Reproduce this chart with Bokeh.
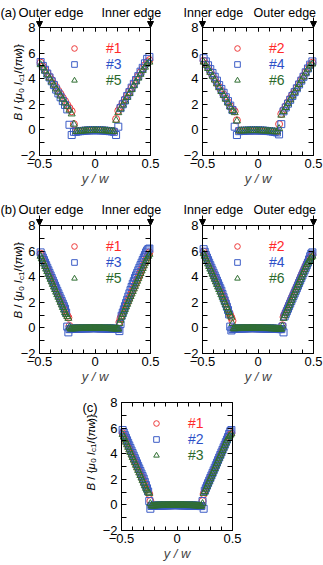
import math
from bokeh.plotting import figure
from bokeh.models import (Range1d, LinearAxis, FixedTicker, Label, Arrow, NormalHead,
                          Legend, LegendItem, CustomJSTickFormatter)
from bokeh.layouts import column, row
from bokeh.embed import file_html
from bokeh.resources import INLINE

# ---------------- data ----------------
x_ticks = [-0.5, 0, 0.5]
x_minor = [-0.5, -0.4, -0.3, -0.2, -0.1, 0, 0.1, 0.2, 0.3, 0.4, 0.5]
y_ticks = [-2, 0, 2, 4, 6, 8]
y_minor = [-1, 1, 3, 5, 7]
x_label = "y / w"

names_a_left = ["#1", "#3", "#5"]
names_a_right = ["#2", "#4", "#6"]
names_c = ["#1", "#2", "#3"]

x_a = [-0.49, -0.47, -0.45, -0.43, -0.41, -0.39, -0.37, -0.35, -0.33, -0.31,
       -0.29, -0.27, -0.25, -0.23, -0.21, -0.19, -0.17, -0.15, -0.13, -0.11,
       -0.09, -0.07, -0.05, -0.03, -0.01, 0.01, 0.03, 0.05, 0.07, 0.09,
       0.11, 0.13, 0.15, 0.17, 0.19, 0.21, 0.23, 0.25, 0.27, 0.29,
       0.31, 0.33, 0.35, 0.37, 0.39, 0.41, 0.43, 0.45, 0.47, 0.49]

a1 = [5.25, 4.95, 4.7, 4.45, 4.15, 3.9, 3.6, 3.35, 3.05, 2.8, 2.5, 2.25, 1.95, 1.7, 1.45,
      0.45,
      -0.1, -0.1, -0.08, -0.07, -0.05, -0.04, -0.03, -0.02, -0.02, -0.02, -0.02, -0.03,
      -0.04, -0.05, -0.07, -0.08, -0.1, -0.1,
      0.85,
      1.5, 1.8, 2.1, 2.4, 2.7, 3.0, 3.3, 3.6, 3.9, 4.2, 4.5, 4.8, 5.05, 5.3, 5.45]
a3 = [5.3, 5.0, 4.7, 4.4, 4.1, 3.8, 3.5, 3.15, 2.85, 2.55, 2.25, 1.95, 1.6,
      0.4, -0.4, -0.15,
      -0.15, -0.12, -0.1, -0.08, -0.06, -0.05, -0.04, -0.03, -0.03, -0.03, -0.03, -0.04,
      -0.05, -0.06, -0.08, -0.1, -0.12, -0.15,
      -0.4, 0.25,
      1.7, 2.0, 2.3, 2.65, 2.95, 3.3, 3.6, 3.9, 4.2, 4.55, 4.85, 5.2, 5.55, 5.7]
a5 = [5.1, 4.85, 4.6, 4.3, 4.05, 3.75, 3.5, 3.2, 2.95, 2.65, 2.4, 2.1, 1.85, 1.55, 1.25,
      0.45,
      -0.12, -0.1, -0.1, -0.08, -0.07, -0.06, -0.05, -0.05, -0.04, -0.04, -0.05, -0.05,
      -0.06, -0.07, -0.08, -0.1, -0.1, -0.12,
      0.75,
      1.35, 1.65, 1.95, 2.25, 2.55, 2.85, 3.15, 3.45, 3.75, 4.05, 4.35, 4.65, 4.9, 5.15, 5.3]
a2 = [5.4, 5.15, 4.85, 4.55, 4.25, 3.95, 3.65, 3.35, 3.05, 2.75, 2.45, 2.15, 1.85, 1.6, 1.45,
      0.75,
      -0.05, -0.05, -0.06, -0.06, -0.05, -0.05, -0.05, -0.04, -0.04, -0.05, -0.05, -0.06,
      -0.07, -0.08, -0.1, -0.12, -0.14, -0.15,
      0.45,
      1.25, 1.55, 1.85, 2.15, 2.45, 2.75, 3.0, 3.3, 3.6, 3.9, 4.2, 4.5, 4.8, 5.05, 5.25]
a4 = [5.6, 5.35, 5.05, 4.75, 4.45, 4.15, 3.85, 3.5, 3.2, 2.9, 2.55, 2.25, 1.9, 1.55,
      0.25, -0.4,
      -0.1, -0.08, -0.07, -0.06, -0.05, -0.05, -0.04, -0.04, -0.04, -0.05, -0.05, -0.06,
      -0.07, -0.09, -0.11, -0.13, -0.16, -0.2,
      -0.35, 0.45,
      1.45, 1.75, 2.05, 2.35, 2.65, 2.95, 3.25, 3.55, 3.85, 4.15, 4.5, 4.8, 5.1, 5.35]
a6 = [5.3, 5.05, 4.8, 4.5, 4.2, 3.9, 3.6, 3.3, 3.0, 2.7, 2.4, 2.1, 1.8, 1.5, 1.35,
      0.7,
      -0.08, -0.07, -0.07, -0.06, -0.06, -0.05, -0.05, -0.05, -0.05, -0.06, -0.06, -0.07,
      -0.08, -0.09, -0.1, -0.12, -0.14, -0.15,
      0.1,
      1.15, 1.45, 1.75, 2.05, 2.35, 2.65, 2.95, 3.25, 3.55, 3.85, 4.15, 4.45, 4.75, 5.0, 5.15]

x_bc = [-0.49, -0.48, -0.47, -0.46, -0.45, -0.44, -0.43, -0.42, -0.41, -0.40,
        -0.39, -0.38, -0.37, -0.36, -0.35, -0.34, -0.33, -0.32, -0.31, -0.30,
        -0.29, -0.28, -0.27, -0.26, -0.25, -0.24, -0.23, -0.22, -0.21, -0.20,
        -0.19, -0.18, -0.17, -0.16, -0.15, -0.14, -0.13, -0.12, -0.11, -0.10,
        -0.09, -0.08, -0.07, -0.06, -0.05, -0.04, -0.03, -0.02, -0.01, 0.0,
        0.01, 0.02, 0.03, 0.04, 0.05, 0.06, 0.07, 0.08, 0.09, 0.10,
        0.11, 0.12, 0.13, 0.14, 0.15, 0.16, 0.17, 0.18, 0.19, 0.20,
        0.21, 0.22, 0.23, 0.24, 0.25, 0.26, 0.27, 0.28, 0.29, 0.30,
        0.31, 0.32, 0.33, 0.34, 0.35, 0.36, 0.37, 0.38, 0.39, 0.40,
        0.41, 0.42, 0.43, 0.44, 0.45, 0.46, 0.47, 0.48, 0.49]

flat_bl = [-0.08, -0.07, -0.07, -0.06, -0.06, -0.05, -0.05, -0.05, -0.04, -0.04,
           -0.04, -0.04, -0.03, -0.03, -0.03, -0.03, -0.03, -0.03, -0.02, -0.02,
           -0.02, -0.02, -0.02, -0.02, -0.03, -0.03, -0.03, -0.03, -0.03, -0.03,
           -0.04, -0.04, -0.04, -0.04, -0.05, -0.05, -0.05, -0.06, -0.06, -0.07,
           -0.07, -0.08, -0.08, -0.09]
flat_br = [-0.06, -0.06, -0.05, -0.05, -0.05, -0.04, -0.04, -0.04, -0.04, -0.03,
           -0.03, -0.03, -0.03, -0.03, -0.02, -0.02, -0.02, -0.02, -0.02, -0.02,
           -0.02, -0.03, -0.03, -0.03, -0.03, -0.03, -0.04, -0.04, -0.04, -0.04,
           -0.05, -0.05, -0.05, -0.05, -0.06, -0.06, -0.06, -0.07, -0.07, -0.08,
           -0.08, -0.09, -0.09, -0.1]
flat_c = [-0.08, -0.08, -0.07, -0.07, -0.06, -0.06, -0.05, -0.05, -0.05, -0.04,
          -0.04, -0.04, -0.04, -0.03, -0.03, -0.03, -0.03, -0.03, -0.02, -0.02,
          -0.02, -0.02, -0.02, -0.02, -0.02, -0.03, -0.03, -0.03, -0.03, -0.03,
          -0.04, -0.04, -0.04, -0.04, -0.05, -0.05, -0.05, -0.05, -0.06, -0.06,
          -0.07, -0.07, -0.08, -0.08, -0.09, -0.09]

b1_l = [5.8, 5.6, 5.35, 5.15, 4.95, 4.75, 4.6, 4.4, 4.2, 3.95, 3.75, 3.55, 3.35,
        3.15, 2.95, 2.75, 2.55, 2.35, 2.15, 1.95, 1.75, 1.55, 1.35, 1.15, 0.95, 0.8]
b1_r = [0.45, 0.75, 0.95, 1.15, 1.35, 1.55, 1.75, 1.95, 2.15, 2.35, 2.55, 2.75, 2.95,
        3.15, 3.35, 3.55, 3.75, 3.95, 4.15, 4.35, 4.55, 4.75, 4.95, 5.15, 5.35, 5.55, 5.75, 5.9]
b3_l = [5.9, 5.7, 5.5, 5.3, 5.1, 4.9, 4.7, 4.5, 4.3, 4.1, 3.9, 3.7, 3.5, 3.3, 3.1,
        2.9, 2.7, 2.5, 2.3, 2.1, 1.9, 1.7, 1.5, 1.2]
b3_r = [0.95, 1.2, 1.45, 1.7, 1.95, 2.2, 2.45, 2.7, 2.95, 3.2, 3.45, 3.65, 3.9, 4.1,
        4.3, 4.5, 4.7, 4.9, 5.1, 5.3, 5.5, 5.7, 5.9, 6.05, 6.15, 6.2]
b5_l = [5.6, 5.4, 5.2, 5.0, 4.8, 4.6, 4.4, 4.2, 4.0, 3.8, 3.6, 3.4, 3.2, 3.0, 2.8,
        2.6, 2.4, 2.2, 2.0, 1.8, 1.6, 1.4, 1.2, 1.05, 0.9, 0.75]
b5_r = [0.35, 0.6, 0.85, 1.05, 1.25, 1.45, 1.65, 1.85, 2.05, 2.25, 2.45, 2.65, 2.85,
        3.05, 3.25, 3.45, 3.65, 3.85, 4.05, 4.25, 4.45, 4.65, 4.85, 5.05, 5.25, 5.45, 5.6, 5.75]

b2_l = [5.95, 5.75, 5.55, 5.35, 5.15, 4.95, 4.75, 4.55, 4.35, 4.15, 3.95, 3.75, 3.55,
        3.35, 3.15, 2.95, 2.75, 2.55, 2.35, 2.15, 1.95, 1.7, 1.45, 1.2, 1.0, 0.8]
b2_r = [0.2, 0.85, 1.05, 1.25, 1.45, 1.65, 1.85, 2.05, 2.25, 2.45, 2.65, 2.85, 3.05,
        3.25, 3.45, 3.65, 3.85, 4.05, 4.25, 4.45, 4.65, 4.85, 5.05, 5.2, 5.35, 5.5, 5.6, 5.7]
b4_l = [6.15, 5.95, 5.7, 5.5, 5.3, 5.1, 4.9, 4.7, 4.5, 4.3, 4.1, 3.9, 3.7, 3.5, 3.3,
        3.1, 2.9, 2.65, 2.4, 2.15, 1.9, 1.65, 1.4, 1.05]
b4_r = [0.9, 1.1, 1.3, 1.5, 1.7, 1.9, 2.1, 2.3, 2.5, 2.7, 2.9, 3.1, 3.3, 3.5, 3.7,
        3.9, 4.1, 4.3, 4.5, 4.7, 4.9, 5.1, 5.35, 5.6, 5.8, 5.9]
b6_l = [5.8, 5.6, 5.4, 5.2, 5.0, 4.8, 4.6, 4.4, 4.2, 4.0, 3.8, 3.6, 3.4, 3.2, 3.0,
        2.8, 2.6, 2.4, 2.2, 2.0, 1.8, 1.6, 1.4, 1.2, 1.0, 0.85]
b6_r = [0.15, 0.75, 0.95, 1.15, 1.35, 1.55, 1.75, 1.95, 2.15, 2.35, 2.55, 2.75, 2.95,
        3.15, 3.35, 3.55, 3.75, 3.95, 4.15, 4.35, 4.55, 4.75, 4.95, 5.1, 5.25, 5.4, 5.5, 5.6]

c1_l = [5.6, 5.4, 5.2, 5.0, 4.8, 4.6, 4.4, 4.2, 4.0, 3.8, 3.6, 3.4, 3.2, 3.0, 2.8,
        2.6, 2.4, 2.2, 2.0, 1.8, 1.6, 1.4, 1.2, 1.0, 0.85]
c1_r = [0.85, 1.05, 1.25, 1.45, 1.65, 1.85, 2.05, 2.25, 2.45, 2.65, 2.85, 3.05, 3.25,
        3.45, 3.65, 3.85, 4.05, 4.25, 4.45, 4.65, 4.85, 5.05, 5.25, 5.4, 5.5, 5.6]
c2_l = [5.85, 5.65, 5.45, 5.25, 5.05, 4.85, 4.65, 4.45, 4.25, 4.05, 3.85, 3.65, 3.45,
        3.25, 3.05, 2.85, 2.65, 2.45, 2.25, 2.05, 1.8, 1.55, 1.3, 1.05]
c2_r = [1.1, 1.3, 1.5, 1.7, 1.9, 2.1, 2.3, 2.5, 2.7, 2.9, 3.1, 3.3, 3.5, 3.7, 3.9,
        4.1, 4.3, 4.5, 4.7, 4.9, 5.1, 5.3, 5.55, 5.75, 5.85]
c3_l = [5.5, 5.3, 5.1, 4.9, 4.7, 4.5, 4.3, 4.1, 3.9, 3.7, 3.5, 3.3, 3.1, 2.9, 2.7,
        2.5, 2.3, 2.1, 1.9, 1.7, 1.5, 1.3, 1.15, 1.0, 0.9]
c3_r = [0.9, 1.05, 1.25, 1.45, 1.65, 1.85, 2.05, 2.25, 2.45, 2.65, 2.85, 3.05, 3.25,
        3.45, 3.65, 3.85, 4.05, 4.25, 4.45, 4.65, 4.85, 5.05, 5.2, 5.35, 5.45, 5.55]

b1 = b1_l + [0.15] + flat_bl + b1_r
b3 = b3_l + [0.1, -0.35, -0.1] + flat_bl + [-0.25, 0.3] + b3_r
b5 = b5_l + [0.05] + flat_bl + b5_r
b2 = b2_l + [0.55] + flat_br + b2_r
b4 = b4_l + [0.1, -0.2, -0.1] + flat_br + [0.1, -0.35] + b4_r
b6 = b6_l + [0.35] + flat_br + b6_r
c1 = c1_l + [0.3] + flat_c + [0.3] + c1_r
c2 = c2_l + [0.3, -0.3] + flat_c + [0.3, -0.3] + c2_r
c3 = c3_l + [0.1] + flat_c + [0.1] + c3_r

for s in (a1, a2, a3, a4, a5, a6):
    assert len(s) == len(x_a), len(s)
for s in (b1, b2, b3, b4, b5, b6, c1, c2, c3):
    assert len(s) == len(x_bc), len(s)

# ---------------- style ----------------
FONT = "Liberation Sans"
RED, BLUE, GREEN = "#ee3b3b", "#3b5cc6", "#2f6e31"
RED_T, BLUE_T, GREEN_T = "#ff2a2a", "#2d50c8", "#2b6a2c"
X_LO, X_HI, Y_LO, Y_HI = -0.5, 0.5, -2, 8
FW, FH = 111, 128          # size of the data box in pixels
XS = FW / (X_HI - X_LO)     # px per x unit
YS = FH / (Y_HI - Y_LO)     # px per y unit
NB = "\u00a0"


def style_axis(ax, ticks, minor, tick_len, labels=True):
    ax.ticker = FixedTicker(ticks=ticks, minor_ticks=minor)
    ax.major_tick_in = tick_len
    ax.major_tick_out = 0
    ax.minor_tick_in = tick_len
    ax.minor_tick_out = 0
    ax.axis_line_color = "black"
    ax.major_tick_line_color = "black"
    ax.minor_tick_line_color = "black"
    if labels:
        ax.major_label_text_font = FONT
        ax.major_label_text_font_size = "13px"
        ax.major_label_text_color = "black"
        ax.major_label_standoff = 4
    else:
        ax.formatter = CustomJSTickFormatter(code="return ''")
        ax.major_label_text_font_size = "0px"
        ax.major_label_standoff = 0


def make_panel(W, H, L, T):
    """Figure whose plotting area fills the canvas; the data box [X_LO,X_HI]x[Y_LO,Y_HI]
    sits at (L, T) px from the top-left, and the axes are pinned on its edges."""
    B = H - T - FH
    xr = Range1d(X_LO - L / XS, X_HI + (W - L - FW) / XS)
    yr = Range1d(Y_LO - B / YS, Y_HI + T / YS)
    p = figure(width=W, height=H, x_range=xr, y_range=yr,
               output_backend="svg", toolbar_location=None,
               x_axis_type=None, y_axis_type=None,
               min_border_left=0, min_border_right=0, min_border_top=0, min_border_bottom=0)
    p.outline_line_color = None
    p.background_fill_color = "white"
    p.border_fill_color = "white"

    bottom = LinearAxis(fixed_location=Y_LO, bounds=(X_LO, X_HI))
    style_axis(bottom, x_ticks, x_minor, 4)
    bottom.axis_label = x_label
    bottom.axis_label_text_font = FONT
    bottom.axis_label_text_font_style = "italic"
    bottom.axis_label_text_font_size = "13px"
    bottom.axis_label_standoff = 0
    bottom.major_label_standoff = 3
    p.add_layout(bottom, "below")

    left = LinearAxis(fixed_location=X_LO, bounds=(Y_LO, Y_HI))
    style_axis(left, y_ticks, y_minor, 5)
    p.add_layout(left, "left")

    top = LinearAxis(fixed_location=Y_HI, bounds=(X_LO, X_HI))
    style_axis(top, x_ticks, x_minor, 4, labels=False)
    p.add_layout(top, "above")

    right = LinearAxis(fixed_location=X_HI, bounds=(Y_LO, Y_HI))
    style_axis(right, y_ticks, y_minor, 5, labels=False)
    p.add_layout(right, "right")
    p._geom = (L, T, B)
    return p


def fx(p, px):
    return X_LO + (px - p._geom[0]) / XS


def fy(p, py):
    return Y_HI - (py - p._geom[1]) / YS


def add_text(p, px, py, text, size="13px", color="black", style="normal", angle=0, align="left"):
    p.add_layout(Label(x=fx(p, px), y=fy(p, py), text=text, text_font=FONT,
                       text_font_size=size, text_color=color, text_font_style=style,
                       angle=angle, text_align=align, text_baseline="alphabetic"))


def add_series(p, x, ys, names):
    rends = []
    specs = [("circle", RED), ("square", BLUE), ("triangle", GREEN)]
    for y, (mk, col) in zip(ys, specs):
        r = p.scatter(x, y, marker=mk, size=7, line_color=col, fill_color=None, line_width=1)
        rends.append(r)
    tcols = [RED_T, BLUE_T, GREEN_T]
    L, T, B = p._geom
    gx, gy = L + 35, B + 106   # first legend glyph centre, px from canvas bottom-left
    for i, (r, nm, tc) in enumerate(zip(rends, names, tcols)):
        lg = Legend(items=[LegendItem(label=nm, renderers=[r])],
                    location=(gx - 7, gy - 7 - i * 16),
                    glyph_width=14, glyph_height=14, label_height=14, label_width=10,
                    label_standoff=25, padding=0, margin=0, spacing=0,
                    label_text_font=FONT, label_text_font_size="14px",
                    label_text_color=tc, label_text_baseline="middle",
                    border_line_alpha=0, background_fill_alpha=0)
        p.add_layout(lg)
    return rends


def add_arrows(p):
    for xx in (X_LO, X_HI):
        p.add_layout(Arrow(end=NormalHead(size=6, fill_color="black", line_color="black"),
                           x_start=xx, y_start=Y_HI + 10 / YS,
                           x_end=xx, y_end=Y_HI, line_color="black", line_width=1))


# y-axis title "B / {mu_0 I_c1/(pi w)}", in pieces: text, style, subscript?, em advance
YLAB = [("B", "italic", False, 0.667), (NB + "/" + NB + "{", "normal", False, 1.168),
        ("\u03bc", "italic", False, 0.576), ("0", "normal", True, 0.556),
        ("", "normal", False, 0.278), ("I", "italic", False, 0.278),
        ("c1", "normal", True, 1.056), ("/(", "normal", False, 0.611),
        ("\u03c0w", "italic", False, 1.27), (")}", "normal", False, 0.667)]


def add_ylabel(p, base_px, start_py, main=11.5, sub=8.0, sub_shift=3.0):
    cur = start_py
    for txt, st, is_sub, em in YLAB:
        size = sub if is_sub else main
        bx = base_px + (sub_shift if is_sub else 0)
        if txt:
            add_text(p, bx, cur, txt, size=f"{size}px", style=st, angle=math.pi / 2)
        cur -= em * size


# ---------------- panels ----------------
pa_l = make_panel(163, 198, 39, 27)
add_series(pa_l, x_a, [a1, a3, a5], names_a_left)
add_arrows(pa_l)
add_text(pa_l, 0, 12, "(a)")
add_text(pa_l, 18, 12, "Outer edge")
add_text(pa_l, 101, 12, "Inner edge", size="12.5px")
add_ylabel(pa_l, 17.5, 120)

pa_r = make_panel(160, 198, 39, 27)
add_series(pa_r, x_a, [a2, a4, a6], names_a_right)
add_arrows(pa_r)
add_text(pa_r, 20, 12, "Inner edge", size="12.5px")
add_text(pa_r, 90, 12, "Outer edge", size="12.5px")

pb_l = make_panel(163, 192, 39, 27)
add_series(pb_l, x_bc, [b1, b3, b5], names_a_left)
add_arrows(pb_l)
add_text(pb_l, 0, 11, "(b)")
add_text(pb_l, 18, 11, "Outer edge")
add_text(pb_l, 101, 11, "Inner edge", size="12.5px")
add_ylabel(pb_l, 17.5, 120)

pb_r = make_panel(160, 192, 39, 27)
add_series(pb_r, x_bc, [b2, b4, b6], names_a_right)
add_arrows(pb_r)
add_text(pb_r, 20, 11, "Inner edge", size="12.5px")
add_text(pb_r, 90, 11, "Outer edge", size="12.5px")

pc = make_panel(323, 175, 121, 12)
add_series(pc, x_bc, [c1, c2, c3], names_c)
add_text(pc, 82, 17, "(c)")
add_ylabel(pc, 90, 100)

layout = column(row(pa_l, pa_r), row(pb_l, pb_r), pc)

open("out.html", "w").write(file_html(layout, INLINE))
